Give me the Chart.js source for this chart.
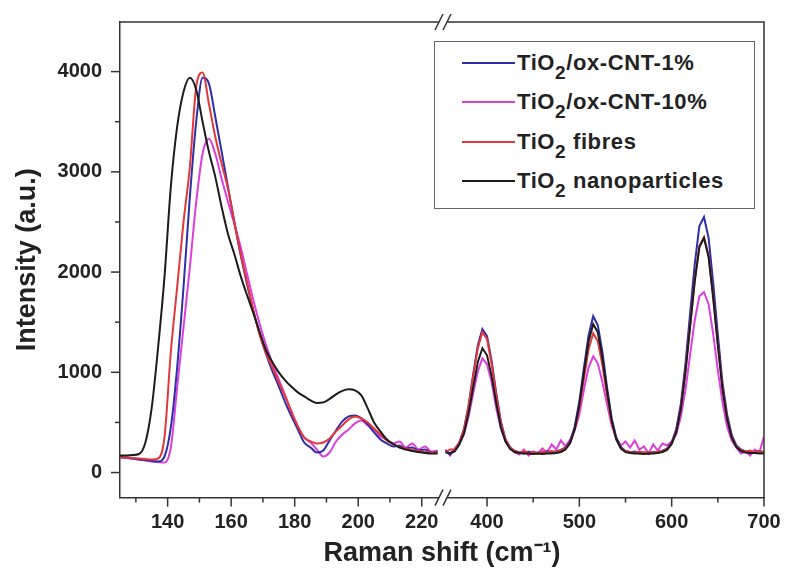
<!DOCTYPE html>
<html>
<head>
<meta charset="utf-8">
<script src="https://cdn.jsdelivr.net/npm/chart.js@4/dist/chart.umd.min.js"></script>
<style>
    html, body { margin: 0; padding: 0; background: #fff; }
    #wrap { position: relative; width: 786px; height: 577px; }
    #legend {
        position: absolute; left: 434px; top: 41px; width: 321px; height: 168px;
        box-sizing: border-box; border: 1.5px solid #666; background: #fff;
        font: bold 22px "Liberation Sans", Arial, sans-serif; letter-spacing: 0.6px; color: #222;
    }
    .row { position: absolute; left: 0; height: 30px; display: flex; align-items: center; white-space: nowrap; }
    .swatch { width: 53px; height: 2px; margin-left: 27px; margin-right: 2px; }
    .row sub { font-size: 19px; vertical-align: -9px; line-height: 0; }
</style>
</head>
<body>
<div id="wrap">
    <canvas id="chart" width="786" height="577"></canvas>
    <div id="legend"></div>
</div>
<script>
// Raman shift (cm-1), low-wavenumber part (left of the axis break)
const shiftLow = [125, 127, 129, 131, 133, 135, 137, 139, 141, 143, 145, 147, 149, 151, 153, 155, 157, 159, 161, 163,
    165, 167, 169, 171, 173, 175, 177, 179, 181, 183, 185, 187, 189, 191, 193, 195, 197, 199, 201, 203,
    205, 207, 209, 211, 213, 215, 217, 219, 221, 223, 225];

// Raman shift (cm-1), high-wavenumber part (right of the axis break)
const shiftHigh = [355, 360, 365, 370, 375, 380, 385, 390, 395, 400, 405, 410, 415, 420, 425, 430, 435, 440, 445, 450,
    455, 460, 465, 470, 475, 480, 485, 490, 495, 500, 505, 510, 515, 520, 525, 530, 535, 540, 545, 550,
    555, 560, 565, 570, 575, 580, 585, 590, 595, 600, 605, 610, 615, 620, 625, 630, 635, 640, 645, 650,
    655, 660, 665, 670, 675, 680, 685, 690, 695, 700];

const cnt1Low = [155, 150, 140, 130, 125, 115, 110, 160, 450, 1050, 1850, 2750, 3500, 3940, 3880, 3550, 3200, 2850, 2500, 2170,
    1880, 1610, 1380, 1180, 1010, 860, 700, 560, 430, 300, 250, 200, 220, 320, 420, 510, 560, 570, 540, 480,
    400, 330, 290, 260, 270, 240, 250, 220, 230, 200, 210];
const cnt1High = [220, 180, 230, 300, 430, 670, 980, 1270, 1430, 1360, 1110, 790, 510, 330, 250, 215, 200, 190, 210, 195,
    200, 190, 215, 200, 210, 225, 250, 310, 460, 710, 1050, 1370, 1560, 1470, 1200, 850, 540, 350, 255, 215,
    200, 210, 190, 200, 185, 205, 200, 215, 240, 300, 435, 690, 1090, 1590, 2080, 2460, 2550, 2340, 1890, 1380,
    900, 580, 375, 270, 230, 210, 200, 205, 215, 200];

const cnt10Low = [150, 145, 140, 130, 120, 110, 105, 100, 250, 850, 1450, 2050, 2700, 3180, 3330, 3180, 2930, 2700, 2480, 2250,
    1980, 1720, 1480, 1270, 1090, 930, 770, 610, 460, 350, 300, 230, 160, 200, 310, 380, 430, 490, 520, 470,
    430, 360, 330, 290, 310, 250, 290, 230, 260, 210, 220];
const cnt10High = [230, 170, 240, 290, 380, 560, 790, 1010, 1140, 1080, 900, 640, 440, 310, 250, 200, 180, 230, 170, 210,
    190, 240, 200, 280, 230, 320, 260, 330, 420, 580, 830, 1050, 1160, 1090, 900, 680, 470, 340, 270, 310,
    250, 320, 230, 260, 190, 280, 220, 290, 270, 310, 380, 560, 830, 1180, 1520, 1760, 1800, 1680, 1380, 1020,
    700, 460, 320, 250, 190, 210, 170, 230, 200, 360];

const fibresLow = [150, 150, 145, 140, 135, 130, 140, 350, 1200, 1850, 2500, 3050, 3850, 3990, 3680, 3350, 3080, 2830, 2500, 2180,
    1900, 1620, 1370, 1190, 1050, 900, 760, 600, 460, 350, 310, 290, 300, 340, 410, 470, 530, 560, 540, 500,
    440, 380, 320, 280, 255, 240, 225, 215, 205, 200, 200];
const fibresHigh = [200, 230, 230, 300, 430, 660, 960, 1240, 1400, 1330, 1080, 770, 490, 330, 250, 215, 200, 210, 195, 205,
    190, 210, 200, 215, 205, 220, 245, 295, 430, 650, 940, 1230, 1390, 1310, 1070, 770, 500, 330, 245, 215,
    205, 195, 210, 200, 205, 195, 210, 215, 235, 290, 410, 650, 1020, 1470, 1920, 2260, 2350, 2160, 1750, 1280,
    850, 540, 360, 260, 225, 210, 220, 200, 215, 205];

const nanoLow = [170, 170, 175, 185, 300, 650, 1250, 1950, 2850, 3450, 3800, 3940, 3820, 3500, 3200, 2950, 2650, 2380, 2180, 1960,
    1770, 1590, 1400, 1220, 1100, 1000, 920, 855, 800, 760, 720, 695, 700, 735, 780, 815, 830, 820, 770, 640,
    500, 410, 330, 285, 250, 230, 215, 205, 195, 190, 190];
const nanoHigh = [200, 195, 210, 280, 390, 590, 850, 1100, 1240, 1170, 960, 690, 450, 310, 235, 205, 195, 190, 190, 185,
    190, 185, 190, 190, 195, 205, 230, 295, 435, 680, 1000, 1310, 1480, 1400, 1140, 810, 520, 330, 240, 205,
    195, 190, 190, 185, 190, 190, 195, 205, 225, 285, 405, 640, 1010, 1460, 1910, 2250, 2340, 2150, 1740, 1270,
    835, 535, 350, 255, 215, 200, 195, 195, 190, 190];

// tick marks and the ones that carry a label (labelled = long tick)
const yTicks = [0, 500, 1000, 1500, 2000, 2500, 3000, 3500, 4000];
const yLabels = [0, 1000, 2000, 3000, 4000];
const lowTicks = [130, 140, 150, 160, 170, 180, 190, 200, 210, 220];
const lowLabels = [140, 160, 180, 200, 220];
const highTicks = [400, 450, 500, 550, 600, 650, 700];
const highLabels = [400, 500, 600, 700];

const series = [
    { name: 'TiO<sub>2</sub>/ox-CNT-1%', color: '#2e2ea6', low: cnt1Low, high: cnt1High, order: 2 },
    { name: 'TiO<sub>2</sub>/ox-CNT-10%', color: '#dd3fdd', low: cnt10Low, high: cnt10High, order: 3 },
    { name: 'TiO<sub>2</sub> fibres', color: '#e2383a', low: fibresLow, high: fibresHigh, order: 1 },
    { name: 'TiO<sub>2</sub> nanoparticles', color: '#1c1c1c', low: nanoLow, high: nanoHigh, order: 0 }
];

const FONT = '"Liberation Sans", Arial, sans-serif';
const INK = '#222';
const AXIS = '#333';
const HIDDEN = 'rgba(0,0,0,0)';

function toPoints(xs, ys) {
    return xs.map((x, i) => ({ x: x, y: ys[i] }));
}

const datasets = [];
series.forEach(s => {
    datasets.push({
        label: s.name, data: toPoints(shiftLow, s.low), xAxisID: 'xLow', yAxisID: 'y',
        borderColor: s.color, borderWidth: 2, pointRadius: 0, cubicInterpolationMode: 'monotone', order: s.order
    });
    datasets.push({
        label: s.name, data: toPoints(shiftHigh, s.high), xAxisID: 'xHigh', yAxisID: 'y',
        borderColor: s.color, borderWidth: 2, pointRadius: 0, tension: 0, order: s.order
    });
});

// outward tick marks, long for labelled values and short for the others
function tickMarks(ctx, scale, list, labels, a) {
    list.forEach(v => {
        const len = labels.includes(v) ? 9 : 5;
        const p = scale.getPixelForValue(v);
        ctx.beginPath();
        if (scale.isHorizontal()) {
            ctx.moveTo(p, a.bottom);
            ctx.lineTo(p, a.bottom + len);
        } else {
            ctx.moveTo(a.left, p);
            ctx.lineTo(a.left - len, p);
        }
        ctx.stroke();
    });
}

// axis frame (top + right), tick marks and the "//" marks at the break
const framePlugin = {
    id: 'frame',
    afterDraw(chart) {
        const { ctx, chartArea: a, scales } = chart;
        const bx = scales.xHigh.left;
        ctx.save();
        ctx.strokeStyle = AXIS;
        ctx.lineWidth = 1.5;
        ctx.beginPath();
        ctx.moveTo(a.left, a.top);
        ctx.lineTo(a.right, a.top);
        ctx.lineTo(a.right, a.bottom);
        ctx.stroke();
        tickMarks(ctx, scales.y, yTicks, yLabels, a);
        tickMarks(ctx, scales.xLow, lowTicks, lowLabels, a);
        tickMarks(ctx, scales.xHigh, highTicks, highLabels, a);
        [a.top, a.bottom].forEach(y => {
            ctx.fillStyle = '#fff';
            ctx.fillRect(bx - 4, y - 2, 8, 4);
            ctx.beginPath();
            [-4, 4].forEach(d => {
                ctx.moveTo(bx + d - 4, y + 8);
                ctx.lineTo(bx + d + 4, y - 8);
            });
            ctx.stroke();
        });
        ctx.restore();
    }
};

function xAxis(min, max, tickList, labelList, weight) {
    return {
        type: 'linear', axis: 'x', position: 'bottom', stack: 'shift', stackWeight: weight,
        min: min, max: max,
        afterBuildTicks: scale => { scale.ticks = tickList.map(v => ({ value: v })); },
        afterFit: scale => { scale.height = 40; },
        border: { display: true, color: AXIS, width: 1.5 },
        grid: { drawOnChartArea: false, drawTicks: true, tickLength: 8, tickColor: HIDDEN },
        ticks: {
            autoSkip: false, maxRotation: 0, padding: 5,
            color: INK, font: { family: FONT, size: 20, weight: 'bold' },
            callback: v => (labelList.includes(v) ? v : '')
        }
    };
}

new Chart(document.getElementById('chart'), {
    type: 'line',
    data: { datasets: datasets },
    options: {
        responsive: false,
        animation: false,
        events: [],
        layout: { padding: { top: 22, right: 22, left: 0, bottom: 0 } },
        scales: {
            xLow: xAxis(125, 226.7, lowTicks, lowLabels, 323),
            xHigh: xAxis(352.3, 700, highTicks, highLabels, 321),
            y: {
                type: 'linear', position: 'left', min: -250, max: 4495,
                afterBuildTicks: scale => { scale.ticks = yTicks.map(v => ({ value: v })); },
                afterFit: scale => { scale.width = 120; },
                border: { display: true, color: AXIS, width: 1.5 },
                grid: { drawOnChartArea: false, drawTicks: true, tickLength: 9, tickColor: HIDDEN },
                ticks: {
                    autoSkip: false, padding: 9,
                    color: INK, font: { family: FONT, size: 20, weight: 'bold' },
                    callback: v => (yLabels.includes(v) ? v : '')
                },
                title: {
                    display: true, text: 'Intensity (a.u.)', color: INK,
                    font: { family: FONT, size: 27, weight: 'bold' }, padding: { top: 11, bottom: 0 }
                }
            }
        },
        plugins: {
            legend: { display: false },
            tooltip: { enabled: false },
            title: {
                display: true, text: 'Raman shift (cm⁻¹)', position: 'bottom', fullSize: false,
                color: INK, font: { family: FONT, size: 27, weight: 'bold' }, padding: { top: 0, bottom: 7 }
            }
        }
    },
    plugins: [framePlugin]
});

// legend with subscripts, drawn as html text inside the plot frame
const legendEl = document.getElementById('legend');
const rowTops = [6, 45, 85, 124];
series.forEach((s, i) => {
    const row = document.createElement('div');
    row.className = 'row';
    row.style.top = rowTops[i] + 'px';
    row.innerHTML = '<span class="swatch" style="background:' + s.color + '"></span><span>' + s.name + '</span>';
    legendEl.appendChild(row);
});
</script>
</body>
</html>
